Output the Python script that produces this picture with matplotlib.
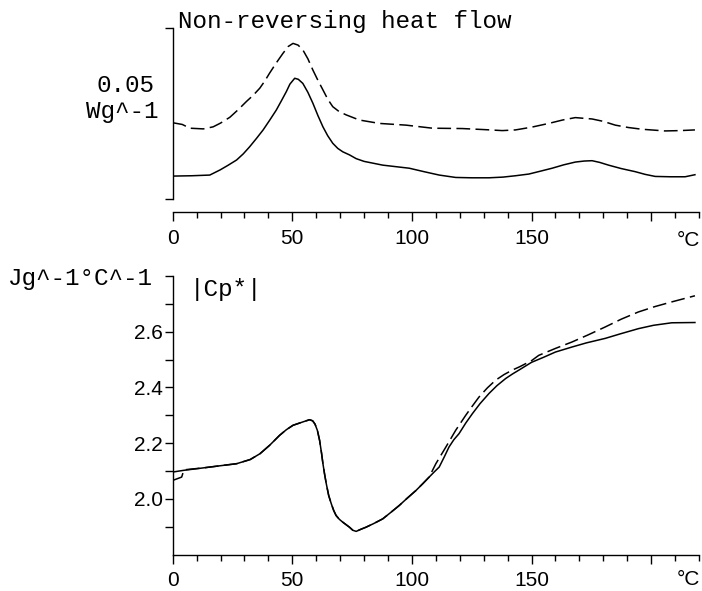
import numpy as np
import matplotlib
matplotlib.use('Agg')
import matplotlib.pyplot as plt

# Non-reversing heat flow (W/g, scale bar 0.05) vs temperature
nr_solid_t = [0, 8, 15.5, 19.8, 23, 26.7, 29.5, 32.2, 35, 37.8, 40.5, 43.3, 45.5, 47.5, 49,
              51, 52.5, 54.4, 56.5, 58.6, 60.7, 62.8, 64.8, 66.9, 69, 71.1, 73.9, 76.7, 80,
              87.8, 98.9, 105, 111.4, 118.3, 125, 132.2, 138, 143.3, 148.9, 153.5, 158.6,
              163.5, 168.3, 172, 175.3, 178.5, 182.2, 187.5, 193.3, 197.5, 201.7, 208,
              214.2, 218.3]
nr_solid = [0.0067, 0.0068, 0.0070, 0.0085, 0.0098, 0.0114, 0.0132, 0.0153, 0.0177, 0.0202,
            0.0230, 0.0260, 0.0288, 0.0314, 0.0336, 0.0353, 0.0350, 0.0338, 0.0312, 0.0280,
            0.0244, 0.0211, 0.0185, 0.0163, 0.0148, 0.0138, 0.0129, 0.0118, 0.0110, 0.0099,
            0.0090, 0.0080, 0.0070, 0.0063, 0.0062, 0.0062, 0.0064, 0.0068, 0.0073, 0.0081,
            0.0090, 0.0100, 0.0108, 0.0111, 0.0112, 0.0107, 0.0099, 0.0089, 0.0080, 0.0072,
            0.0066, 0.0065, 0.0065, 0.0071]
nr_dash_t = [0, 4, 7.2, 12.8, 16.9, 20, 23.9, 27.5, 30.8, 33.6, 36.4, 38.5, 40.5, 43.3, 46.1,
             48.3, 50.3, 52.4, 54.4, 56.5, 58.6, 60.7, 62.8, 64.8, 66.9, 69.5, 72.5, 78,
             86.4, 97.5, 108.6, 121, 130, 137.8, 143.3, 150, 157.2, 163, 168.3, 175.3,
             180, 185, 190.5, 196.1, 205.8, 212, 218.3]
nr_dash = [0.0223, 0.0218, 0.0207, 0.0205, 0.0211, 0.0222, 0.0239, 0.0262, 0.0285, 0.0303,
           0.0324, 0.0345, 0.0368, 0.0398, 0.0426, 0.0446, 0.0455, 0.0450, 0.0436, 0.0410,
           0.0377, 0.0347, 0.0319, 0.0292, 0.0270, 0.0256, 0.0246, 0.0231, 0.0221, 0.0216,
           0.0207, 0.0206, 0.0203, 0.0200, 0.0202, 0.0210, 0.0221, 0.0231, 0.0238, 0.0234,
           0.0227, 0.0216, 0.0209, 0.0204, 0.0199, 0.0200, 0.0202]

# |Cp*| (J/g/degC) vs temperature
cp_solid_t = [0, 4.4, 12.8, 21.1, 26.7, 32.4, 36.5, 40.5, 44.7, 47.5, 50.3, 54.4, 57.2, 58.5,
              59.5, 60.5, 61.4, 62.2, 62.8, 63.5, 64.2, 65.2, 66.3, 67.3, 68.3, 69.7, 71.1,
              73.9, 75.3, 76.7, 78.5, 80.8, 84, 87.8, 91, 94.7, 98, 101.7, 104.5, 107.2,
              109.5, 111.4, 113.5, 115.5, 117.5, 119.7, 122.5, 125.3, 128.5, 132.2, 135.5,
              139.2, 142, 144.7, 150, 155, 160, 166.9, 173, 180.8, 187, 194.7, 201, 208.6,
              218.3]
cp_solid = [2.096, 2.102, 2.111, 2.120, 2.126, 2.141, 2.162, 2.192, 2.228, 2.248, 2.264,
            2.276, 2.284, 2.280, 2.268, 2.245, 2.210, 2.165, 2.126, 2.088, 2.054, 2.012,
            1.982, 1.958, 1.940, 1.926, 1.916, 1.898, 1.887, 1.883, 1.890, 1.898, 1.911,
            1.928, 1.950, 1.976, 2.002, 2.030, 2.054, 2.078, 2.098, 2.114, 2.150, 2.186,
            2.212, 2.234, 2.272, 2.306, 2.342, 2.378, 2.406, 2.432, 2.448, 2.462, 2.490,
            2.508, 2.527, 2.545, 2.560, 2.576, 2.592, 2.611, 2.623, 2.632, 2.633]
cp_dash_t = [0, 3.75, 4.7, 12.8, 21.1, 26.7, 32.4, 36.5, 40.5, 44.7, 47.5, 50.3, 54.4, 57.2,
             58.5, 59.5, 60.5, 61.4, 62.2, 62.8, 63.5, 64.2, 65.2, 66.3, 67.3, 68.3, 69.7,
             71.1, 73.9, 75.3, 76.7, 78.5, 80.8, 84, 87.8, 91, 94.7, 98, 101.7, 104.5,
             107.2, 110, 114.2, 118.3, 122.5, 125, 128, 131.5, 135, 138.5, 141.9, 145,
             147.5, 150, 153, 160, 166.9, 173.5, 180.8, 187.5, 194.7, 201.5, 208.6, 218.3]
cp_dash = [2.066, 2.078, 2.104, 2.111, 2.120, 2.126, 2.141, 2.162, 2.192, 2.228, 2.248,
           2.264, 2.276, 2.284, 2.280, 2.268, 2.245, 2.210, 2.165, 2.126, 2.088, 2.054,
           2.012, 1.982, 1.958, 1.940, 1.926, 1.916, 1.898, 1.887, 1.883, 1.890, 1.898,
           1.911, 1.928, 1.950, 1.976, 2.002, 2.030, 2.054, 2.078, 2.126, 2.186, 2.246,
           2.300, 2.330, 2.365, 2.398, 2.426, 2.446, 2.462, 2.474, 2.485, 2.496, 2.515,
           2.540, 2.563, 2.588, 2.617, 2.645, 2.671, 2.690, 2.707, 2.729]

x_major = [0, 50, 100, 150, 200]
x_labels = ['0', '50', '100', '150', '']
cp_ticks = [2.0, 2.2, 2.4, 2.6]

W, H = 702, 591
mono = 'Liberation Mono'
sans = 'Liberation Sans'
dash = (0, (9, 3.5))

fig = plt.figure(figsize=(W / 100, H / 100), dpi=100)


def style_x(ax):
    ax.set_xlim(0, 220)
    ax.set_xticks(x_major)
    ax.set_xticklabels(x_labels, fontfamily=sans, fontsize=15)
    ax.set_xticks(np.arange(0, 221, 10), minor=True)
    ax.tick_params(axis='x', which='major', length=6.5, width=1, pad=5.5)
    ax.tick_params(axis='x', which='minor', length=4.2, width=1)
    for s in ['top', 'right']:
        ax.spines[s].set_visible(False)
    for s in ['left', 'bottom']:
        ax.spines[s].set_linewidth(1)


# top panel
ax1 = fig.add_axes([172.7 / W, 1 - 212 / H, (699 - 172.7) / W, (212 - 28) / H])
ax1.plot(nr_solid_t, nr_solid, color='black', lw=1.1)
ax1.plot(nr_dash_t, nr_dash, color='black', lw=1.1, linestyle=dash)
style_x(ax1)
ax1.set_ylim(-0.0038, 0.05)
ax1.spines['left'].set_bounds(0, 0.05)
ax1.set_yticks([0, 0.05])
ax1.set_yticklabels(['', ''])
ax1.tick_params(axis='y', length=5.5, width=1)

# bottom panel
ax2 = fig.add_axes([172.7 / W, 1 - 554.5 / H, (699 - 172.7) / W, (554.5 - 276) / H])
ax2.plot(cp_solid_t, cp_solid, color='black', lw=1.1)
ax2.plot(cp_dash_t, cp_dash, color='black', lw=1.1, linestyle=dash)
style_x(ax2)
ax2.set_ylim(1.8, 2.8)
ax2.set_yticks(cp_ticks)
ax2.set_yticklabels(['%.1f' % v for v in cp_ticks], fontfamily=sans, fontsize=15)
ax2.set_yticks(np.arange(1.9, 2.81, 0.1), minor=True)
ax2.tick_params(axis='y', which='both', length=5.5, width=1, pad=1.5)

# labels
def ftext(x, y, s, **kw):
    fig.text(x / W, 1 - y / H, s, **kw)

ftext(178, 28, 'Non-reversing heat flow', family=mono, fontsize=17.5, va='baseline')
ftext(155, 92, '0.05', family=mono, fontsize=17.5, va='baseline', ha='right')
ftext(158, 118, 'Wg^-1', family=mono, fontsize=17.5, va='baseline', ha='right')
ftext(8, 285, 'Jg^-1°C^-1', family=mono, fontsize=17.5, va='baseline')
ftext(190, 296, '|Cp*|', family=mono, fontsize=17.5, va='baseline')
ftext(700, 246, '°C', family=sans, fontsize=15, va='baseline', ha='right')
ftext(700, 585, '°C', family=sans, fontsize=15, va='baseline', ha='right')

fig.savefig('out.png', dpi=100)
